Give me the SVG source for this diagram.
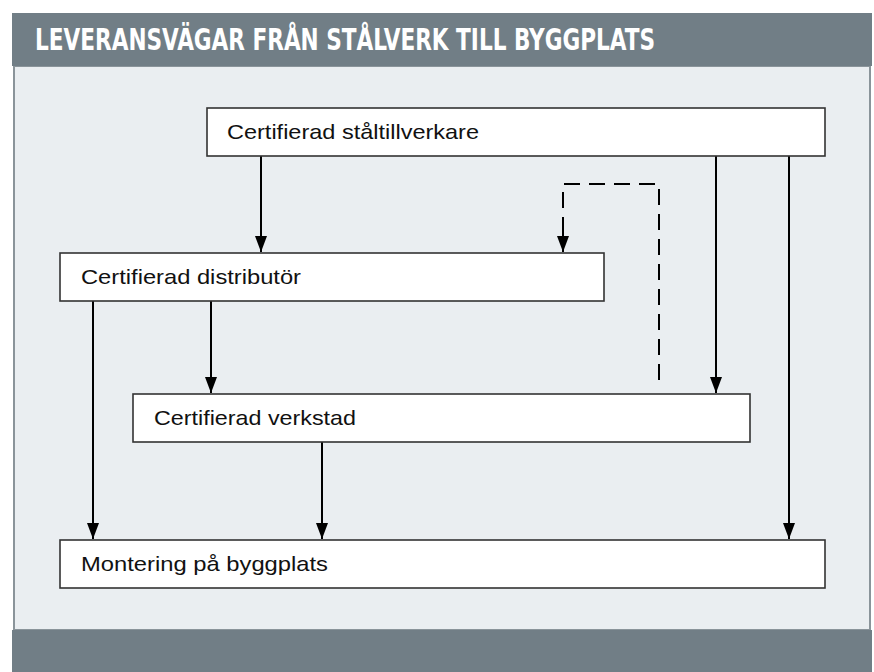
<svg xmlns="http://www.w3.org/2000/svg" width="874" height="672" viewBox="0 0 874 672">
<defs>
<style>
.band{fill:#717e86}
.panel{fill:#eaeef1;stroke:#8a949a;stroke-width:2}
.box{fill:#ffffff;stroke:#333333;stroke-width:1.6}
.lbl{font-family:"Liberation Sans","DejaVu Sans",sans-serif;font-size:21px;fill:#111111}
.title{font-family:"DejaVu Sans Condensed","DejaVu Sans",sans-serif;font-weight:bold;font-size:30px;fill:#ffffff}
.ln{fill:none;stroke:#000000;stroke-width:2}
.dash{fill:none;stroke:#000000;stroke-width:2;stroke-dasharray:16 9}
</style>
<marker id="ah" viewBox="0 0 16 12" refX="16" refY="6" markerWidth="16" markerHeight="12" markerUnits="userSpaceOnUse" orient="auto">
<path d="M0,0 L16,6 L0,12 Z" fill="#000000"/>
</marker>
</defs>
<rect x="0" y="0" width="874" height="672" fill="#ffffff"/>
<rect class="panel" x="14" y="66" width="856" height="564"/>
<rect class="band" x="12" y="13" width="860" height="53"/>
<rect class="band" x="12" y="630" width="860" height="42"/>
<text class="title" x="35" y="50" textLength="620" lengthAdjust="spacingAndGlyphs">LEVERANSVÄGAR FRÅN STÅLVERK TILL BYGGPLATS</text>
<g id="connectors">
<line class="ln" x1="261" y1="156" x2="261" y2="252"/>
<line class="ln" x1="716" y1="156" x2="716" y2="393"/>
<line class="ln" x1="789" y1="156" x2="789" y2="539"/>
<path class="dash" d="M659,380 L659,184 L563,184 L563,252"/>
<line class="ln" x1="93" y1="301" x2="93" y2="539"/>
<line class="ln" x1="211" y1="301" x2="211" y2="393"/>
<line class="ln" x1="322" y1="442" x2="322" y2="539"/>
<line class="ln" x1="261" y1="230" x2="261" y2="252" marker-end="url(#ah)"/>
<line class="ln" x1="716" y1="370" x2="716" y2="393" marker-end="url(#ah)"/>
<line class="ln" x1="789" y1="515" x2="789" y2="539" marker-end="url(#ah)"/>
<line class="ln" x1="563" y1="230" x2="563" y2="252" marker-end="url(#ah)"/>
<line class="ln" x1="93" y1="515" x2="93" y2="539" marker-end="url(#ah)"/>
<line class="ln" x1="211" y1="370" x2="211" y2="393" marker-end="url(#ah)"/>
<line class="ln" x1="322" y1="515" x2="322" y2="539" marker-end="url(#ah)"/>
</g>
<g id="n1"><rect class="box" x="207" y="108" width="618" height="48"/><text class="lbl" x="227" y="139" textLength="252" lengthAdjust="spacingAndGlyphs">Certifierad ståltillverkare</text></g>
<g id="n2"><rect class="box" x="60" y="253" width="544" height="48"/><text class="lbl" x="81" y="284" textLength="220" lengthAdjust="spacingAndGlyphs">Certifierad distributör</text></g>
<g id="n3"><rect class="box" x="133" y="394" width="617" height="48"/><text class="lbl" x="154" y="425" textLength="202" lengthAdjust="spacingAndGlyphs">Certifierad verkstad</text></g>
<g id="n4"><rect class="box" x="60" y="540" width="765" height="48"/><text class="lbl" x="81" y="571" textLength="247" lengthAdjust="spacingAndGlyphs">Montering på byggplats</text></g>
</svg>
